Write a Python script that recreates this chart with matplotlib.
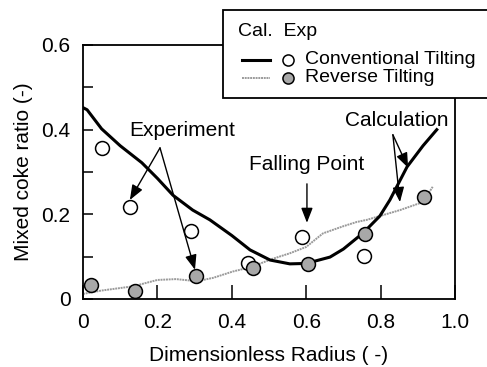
import numpy as np
import matplotlib.pyplot as plt
from matplotlib.lines import Line2D
from matplotlib.patches import Rectangle
from matplotlib.ticker import MultipleLocator

plt.rcParams['font.family'] = ['Liberation Sans', 'DejaVu Sans']

# Calculated curves
conv_calc_x = [0.0, 0.011, 0.05, 0.10, 0.158, 0.20, 0.242, 0.295, 0.341, 0.40, 0.449,
               0.503, 0.556, 0.60, 0.664, 0.70, 0.753, 0.798, 0.825, 0.871, 0.914, 0.951]
conv_calc_y = [0.452, 0.447, 0.402, 0.362, 0.322, 0.285, 0.245, 0.210, 0.187, 0.150, 0.116,
               0.092, 0.083, 0.084, 0.099, 0.118, 0.156, 0.196, 0.234, 0.312, 0.362, 0.400]

rev_calc_x = [0.0, 0.05, 0.135, 0.20, 0.25, 0.306, 0.35, 0.403, 0.45, 0.51, 0.556, 0.60,
              0.645, 0.70, 0.736, 0.763, 0.825, 0.852, 0.914, 0.94]
rev_calc_y = [0.012, 0.020, 0.030, 0.045, 0.047, 0.042, 0.050, 0.065, 0.075, 0.095, 0.108,
              0.123, 0.155, 0.172, 0.182, 0.187, 0.203, 0.210, 0.229, 0.265]

# Experimental points
conv_exp_x = [0.051, 0.126, 0.290, 0.444, 0.588, 0.755]
conv_exp_y = [0.357, 0.217, 0.161, 0.084, 0.147, 0.102]

rev_exp_x = [0.022, 0.140, 0.305, 0.457, 0.604, 0.758, 0.918]
rev_exp_y = [0.033, 0.018, 0.054, 0.073, 0.083, 0.154, 0.240]

series_names = ['Conventional Tilting', 'Reverse Tilting']
xticks = [0, 0.2, 0.4, 0.6, 0.8, 1.0]
xtick_labels = ['0', '0.2', '0.4', '0.6', '0.8', '1.0']
yticks = [0, 0.2, 0.4, 0.6]
ytick_labels = ['0', '0.2', '0.4', '0.6']

W, H = 487, 367
fig = plt.figure(figsize=(W / 100, H / 100), dpi=100)
ax = fig.add_axes([83 / W, 1 - 299 / H, 372 / W, 254 / H])

conv_line = dict(color='black', lw=2.2)
rev_line = dict(color='#9a9a9a', lw=1.4, ls=(0, (1, 0.4)))
conv_mark = dict(marker='o', mfc='white', mec='black', mew=1.1)
rev_mark = dict(marker='o', mfc='#a8a8a8', mec='black', mew=1.1)

ax.plot(conv_calc_x, conv_calc_y, zorder=3, **conv_line)
ax.plot(rev_calc_x, rev_calc_y, zorder=2, **rev_line)
ax.plot(conv_exp_x, conv_exp_y, ls='none', ms=10, zorder=4, **conv_mark)
ax.plot(rev_exp_x, rev_exp_y, ls='none', ms=10, zorder=5, **rev_mark)

ax.set_xlim(0, 1.0)
ax.set_ylim(0, 0.6)
ax.set_xticks(xticks)
ax.set_xticklabels(xtick_labels)
ax.set_yticks(yticks)
ax.set_yticklabels(ytick_labels)
ax.yaxis.set_minor_locator(MultipleLocator(0.1))
ax.tick_params(axis='both', which='both', direction='in', labelsize=15, width=1.1)
ax.tick_params(axis='x', which='major', length=10, pad=10)
ax.tick_params(axis='y', which='major', length=7, pad=9)
ax.tick_params(axis='y', which='minor', length=7)
for s in ax.spines.values():
    s.set_linewidth(1.3)

ax.set_xlabel('Dimensionless Radius ( -)', fontsize=15, labelpad=10)
ax.set_ylabel('Mixed coke ratio (-)', fontsize=15, labelpad=6)

# annotations
arrow = dict(arrowstyle='-|>,head_length=0.9,head_width=0.35', color='black',
             lw=1.0, shrinkA=0, shrinkB=0)
ax.text(0.266, 0.397, 'Experiment', fontsize=15, ha='center', va='center')
ax.annotate('', xy=(0.126, 0.234), xytext=(0.207, 0.357), arrowprops=arrow)
ax.annotate('', xy=(0.301, 0.069), xytext=(0.207, 0.357), arrowprops=arrow)

ax.text(0.602, 0.317, 'Falling Point', fontsize=15, ha='center', va='center')
ax.annotate('', xy=(0.602, 0.180), xytext=(0.602, 0.272), arrowprops=arrow)

ax.text(0.844, 0.421, 'Calculation', fontsize=15, ha='center', va='center')
ax.annotate('', xy=(0.874, 0.310), xytext=(0.833, 0.388), arrowprops=arrow)
ax.annotate('', xy=(0.852, 0.229), xytext=(0.833, 0.388), arrowprops=arrow)

# legend box (runs off the right edge like the original)
def fx(px):
    return px / W

def fy(py):
    return 1 - py / H

fig.add_artist(Rectangle((fx(223), fy(98)), fx(300) - fx(0), fy(10) - fy(98),
                         transform=fig.transFigure, fill=True, fc='white',
                         ec='black', lw=1.3, zorder=10))
fig.text(fx(238), fy(32), 'Cal.  Exp', fontsize=14, va='center', ha='left', zorder=11)
rows = [(60, conv_line, conv_mark), (78, rev_line, rev_mark)]
for name, (py, lstyle, mstyle) in zip(series_names, rows):
    fig.add_artist(Line2D([fx(242), fx(270)], [fy(py), fy(py)],
                          transform=fig.transFigure, zorder=11, **lstyle))
    fig.add_artist(Line2D([fx(288)], [fy(py)], ls='none', ms=8,
                          transform=fig.transFigure, zorder=11, **mstyle))
    fig.text(fx(305), fy(py - 1), name, fontsize=14, va='center', ha='left', zorder=11)

fig.savefig('out.png', dpi=100)
